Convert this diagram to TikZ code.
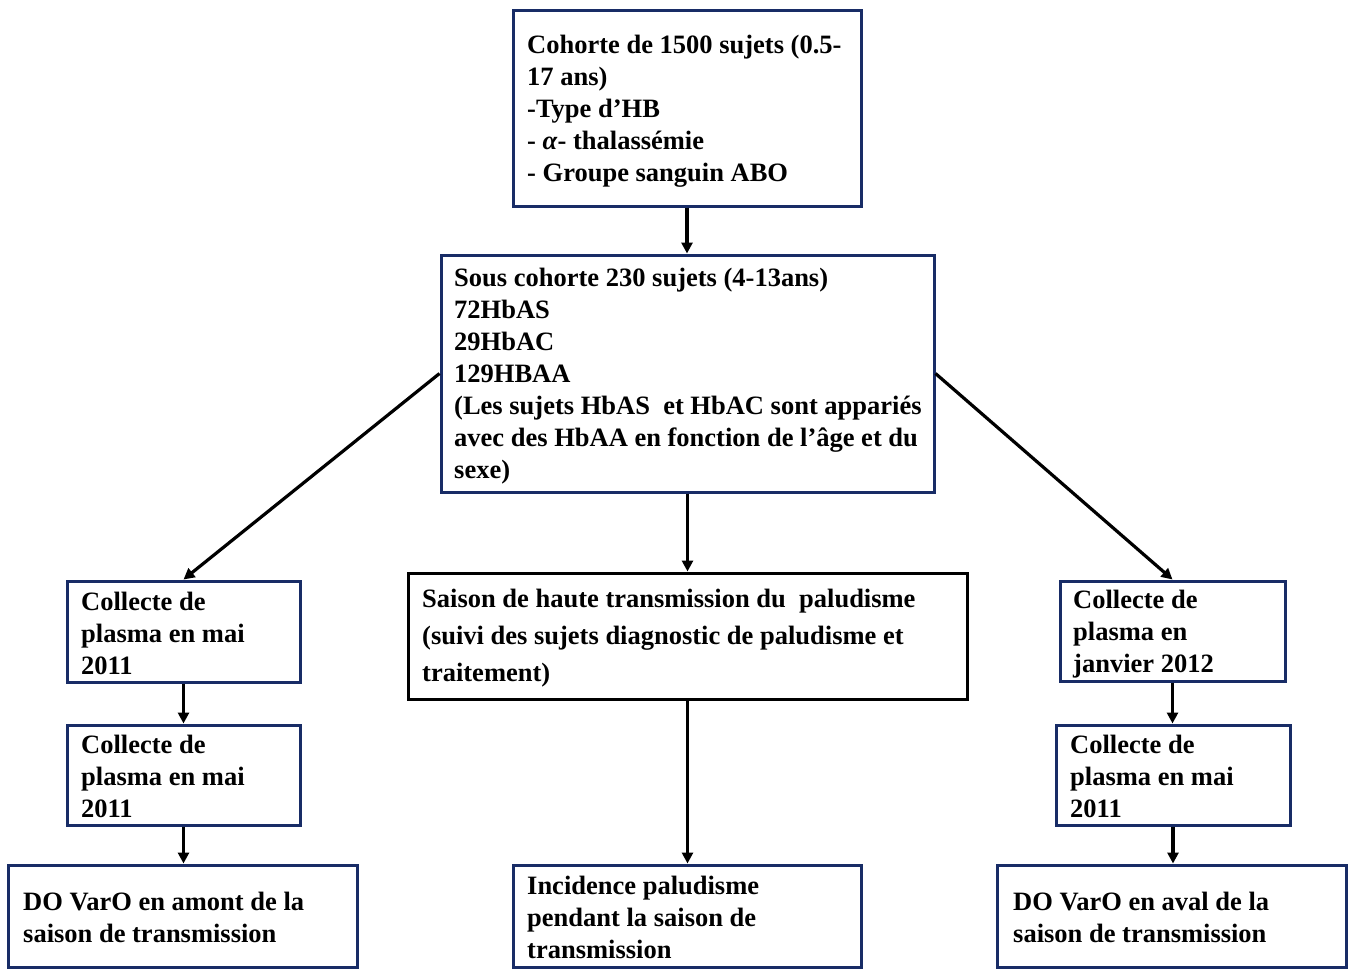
\documentclass[tikz,border=0pt]{standalone}
\usepackage{fontspec}
\setmainfont{Liberation Serif}
\usetikzlibrary{arrows.meta}
\definecolor{navy}{RGB}{24,44,102}
\tikzset{
  box/.style={draw=navy, line width=3pt, rectangle, inner sep=0pt, fill=white},
  blackbox/.style={draw=black, line width=3pt, rectangle, inner sep=0pt, fill=white},
  txt/.style={anchor=base west, inner sep=0pt, font=\fontsize{26.5}{32}\selectfont\bfseries},
  arr/.style={draw=black, line width=3.2pt, -{Triangle[length=11pt,width=11pt]}}
}
\newcommand{\tl}[2]{\parbox[t]{#1pt}{\raggedright #2}}
\begin{document}
\begin{tikzpicture}[x=1pt,y=-1pt]
\useasboundingbox[fill=white] (0,0) rectangle (1354,969);
% boxes
\node[box, minimum width=348pt, minimum height=196pt] (b1) at (687,108) {};
\node[box, minimum width=493pt, minimum height=237pt] (b2) at (687.5,373.5) {};
\node[box, minimum width=233pt, minimum height=101pt] (a1) at (183.5,631.5) {};
\node[box, minimum width=233pt, minimum height=100pt] (a2) at (183.5,775) {};
\node[box, minimum width=349pt, minimum height=102pt] (a3) at (182.5,916) {};
\node[blackbox, minimum width=559pt, minimum height=126pt] (m1) at (687.5,636) {};
\node[box, minimum width=348pt, minimum height=102pt] (m2) at (687,916) {};
\node[box, minimum width=225pt, minimum height=100pt] (r1) at (1172.5,631) {};
\node[box, minimum width=234pt, minimum height=100pt] (r2) at (1173,775) {};
\node[box, minimum width=349pt, minimum height=102pt] (r3) at (1171.5,916) {};
% texts
\node[txt] (t1) at (527,53) {\tl{340}{Cohorte de 1500 sujets (0.5-\\17 ans)\\-Type d’HB\\- \textit{α}- thalassémie\\- Groupe sanguin ABO}};
\node[txt] (t2) at (454,286) {\tl{480}{Sous cohorte 230 sujets (4-13ans)\\72HbAS\\29HbAC\\129HBAA\\(Les sujets HbAS\hspace{0.25em} et HbAC sont appariés\\avec des HbAA en fonction de l’âge et du\\sexe)}};
\node[txt] (ta1) at (81,610) {\tl{220}{Collecte de\\plasma en mai\\2011}};
\node[txt] (ta2) at (81,753) {\tl{220}{Collecte de\\plasma en mai\\2011}};
\node[txt] (ta3) at (23,910) {\tl{330}{DO VarO en amont de la\\saison de transmission}};
\node[txt, font=\fontsize{26.5}{37}\selectfont\bfseries] (tm1) at (422,607) {\tl{540}{Saison de haute transmission du\hspace{0.25em} paludisme\\(suivi des sujets diagnostic de paludisme et\\traitement)}};
\node[txt] (tm2) at (527,894) {\tl{330}{Incidence paludisme\\pendant la saison de\\transmission}};
\node[txt] (tr1) at (1073,608) {\tl{210}{Collecte de\\plasma en\\janvier 2012}};
\node[txt] (tr2) at (1070,753) {\tl{220}{Collecte de\\plasma en mai\\2011}};
\node[txt] (tr3) at (1013,910) {\tl{330}{DO VarO en aval de la\\saison de transmission}};
% arrows
\draw[arr] (b1.south) -- (b1.south |- b2.north);
\draw[arr] (b2.west) -- (a1.north);
\draw[arr] (b2.east) -- (r1.north);
\draw[arr] (b2.south) -- (b2.south |- m1.north);
\draw[arr] (m1.south) -- (m1.south |- m2.north);
\draw[arr] (a1.south) -- (a1.south |- a2.north);
\draw[arr] (a2.south) -- (a2.south |- a3.north);
\draw[arr] (r1.south) -- (r1.south |- r2.north);
\draw[arr] (r2.south) -- (r2.south |- r3.north);
\end{tikzpicture}
\end{document}
